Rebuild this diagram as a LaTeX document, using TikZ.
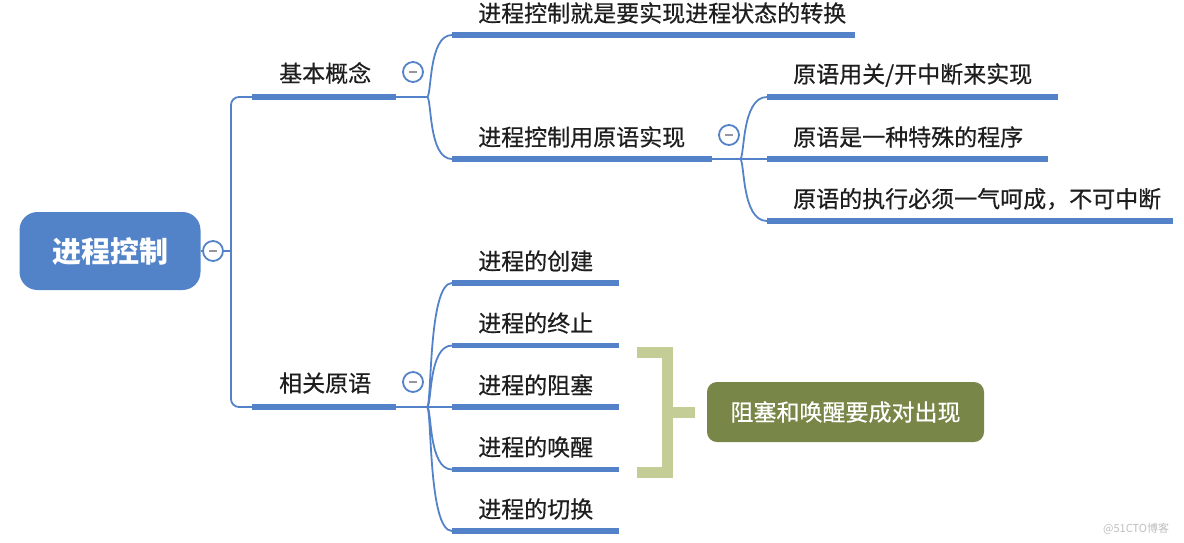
\documentclass[tikz,border=0pt]{standalone}
\usepackage{fontspec}
\newfontfamily\cjk{Noto Sans CJK SC}
\newfontfamily\cjkm[FakeBold=0.5]{Noto Sans CJK SC}
\definecolor{lineblue}{RGB}{84,130,200}
\definecolor{rootblue}{RGB}{82,131,200}
\definecolor{bracketgreen}{RGB}{196,205,150}
\definecolor{boxgreen}{RGB}{120,134,72}
\definecolor{txt}{RGB}{30,30,30}
\definecolor{minusgray}{RGB}{150,150,160}
\tikzset{
  lbl/.style={anchor=west,inner sep=0pt,text=txt,font=\cjkm\fontsize{23}{26}\selectfont},
  uline/.style={draw=lineblue,line width=5.5pt},
  conn/.style={draw=lineblue,line width=1.8pt},
  foldc/.style={circle,draw=lineblue,line width=1.8pt,fill=white,minimum size=20pt,inner sep=0pt},
}
\newcommand{\foldmark}[1]{\draw[minusgray,line width=1.6pt] ([xshift=-4pt]#1.center) -- ([xshift=4pt]#1.center);}
\begin{document}
\begin{tikzpicture}[x=1pt,y=-1pt]
\useasboundingbox (0,0) rectangle (1184,542);
% root
\node[fill=rootblue,rounded corners=18pt,minimum width=181pt,minimum height=78pt,inner sep=0pt,
  text=white,font=\cjk\bfseries\fontsize{29}{32}\selectfont] (root) at (110,251) {进程控制};
\node[foldc] (f0) at (213,251) {};
\foldmark{f0}
\coordinate (rv) at (231,251);
\draw[conn] (root.east) -- (f0.west);
\draw[conn] (f0.east) -- (rv);
% level 1
\coordinate (b1s) at (252,97);  \coordinate (b1e) at (396,97);  \coordinate (b1j) at (427,97);
\coordinate (b2s) at (252,407); \coordinate (b2e) at (396,407); \coordinate (b2j) at (427,407);
\draw[conn,rounded corners=8pt] (b1s) -- (231,97) -- (231,407) -- (b2s);
\draw[uline] (b1s) -- (b1e);
\draw[uline] (b2s) -- (b2e);
\draw[conn] (b1e) -- (b1j);
\draw[conn] (b2e) -- (b2j);
\node[lbl] (n1) at (279,73) {基本概念};
\node[lbl] (n2) at (279,383) {相关原语};
\node[foldc] (f1) at (413,72) {};  \foldmark{f1}
\node[foldc] (f2) at (413,382) {}; \foldmark{f2}
% children of 基本概念
\coordinate (c1s) at (452,35);  \coordinate (c1e) at (855,35);
\coordinate (c2s) at (452,159); \coordinate (c2e) at (712,159); \coordinate (c2j) at (740,159);
\draw[conn] (b1j) .. controls (432,97) and (428,35) .. (c1s);
\draw[conn] (b1j) .. controls (432,97) and (428,159) .. (c2s);
\draw[uline] (c1s) -- (c1e);
\draw[uline] (c2s) -- (c2e);
\draw[conn] (c2e) -- (c2j);
\node[lbl] (n11) at (478,13) {进程控制就是要实现进程状态的转换};
\node[lbl] (n12) at (478,137) {进程控制用原语实现};
\node[foldc] (f3) at (729,135) {}; \foldmark{f3}
% children of 进程控制用原语实现
\coordinate (d1s) at (767,97);  \coordinate (d1e) at (1058,97);
\coordinate (d2s) at (767,159); \coordinate (d2e) at (1048,159);
\coordinate (d3s) at (767,221); \coordinate (d3e) at (1173,221);
\draw[conn] (c2j) .. controls (745,159) and (741,97) .. (d1s);
\draw[conn] (c2j) -- (d2s);
\draw[conn] (c2j) .. controls (745,159) and (741,221) .. (d3s);
\draw[uline] (d1s) -- (d1e);
\draw[uline] (d2s) -- (d2e);
\draw[uline] (d3s) -- (d3e);
\node[lbl] (n121) at (793,75) {原语用关/开中断来实现};
\node[lbl] (n122) at (793,137) {原语是一种特殊的程序};
\node[lbl] (n123) at (793,199) {原语的执行必须一气呵成，不可中断};
% children of 相关原语
\coordinate (e1s) at (452,283);   \coordinate (e1e) at (619,283);
\coordinate (e2s) at (452,345.5); \coordinate (e2e) at (619,345.5);
\coordinate (e3s) at (452,407);   \coordinate (e3e) at (619,407);
\coordinate (e4s) at (452,469.5); \coordinate (e4e) at (619,469.5);
\coordinate (e5s) at (452,531);   \coordinate (e5e) at (619,531);
\draw[conn] (b2j) .. controls (432,407) and (428,283) .. (e1s);
\draw[conn] (b2j) .. controls (432,407) and (428,345.5) .. (e2s);
\draw[conn] (b2j) -- (e3s);
\draw[conn] (b2j) .. controls (432,407) and (428,469.5) .. (e4s);
\draw[conn] (b2j) .. controls (432,407) and (428,531) .. (e5s);
\foreach \i in {1,...,5} {\draw[uline] (e\i s) -- (e\i e);}
\node[lbl] (n21) at (478,261) {进程的创建};
\node[lbl] (n22) at (478,323) {进程的终止};
\node[lbl] (n23) at (478,385) {进程的阻塞};
\node[lbl] (n24) at (478,447) {进程的唤醒};
\node[lbl] (n25) at (478,509) {进程的切换};
% bracket and summary
\coordinate (bt) at (637,352); \coordinate (bb) at (637,472.5);
\coordinate (bm) at (667.5,412);
\draw[bracketgreen,line width=11pt,line join=miter] (bt) -- (667.5,352) -- (667.5,472.5) -- (bb);
\node[fill=boxgreen,rounded corners=10pt,minimum width=277pt,minimum height=60pt,inner sep=0pt,
  text=white,font=\cjkm\fontsize{23}{26}\selectfont] (sum) at (845.5,412) {阻塞和唤醒要成对出现};
\draw[bracketgreen,line width=11pt] (bm) -- ([xshift=-12pt]sum.west);
% watermark
\node[anchor=west,inner sep=0pt,text={rgb,255:red,190;green,190;blue,190},font=\cjk\fontsize{11}{13}\selectfont] (wm) at (1103,529) {@51CTO博客};
\end{tikzpicture}
\end{document}
